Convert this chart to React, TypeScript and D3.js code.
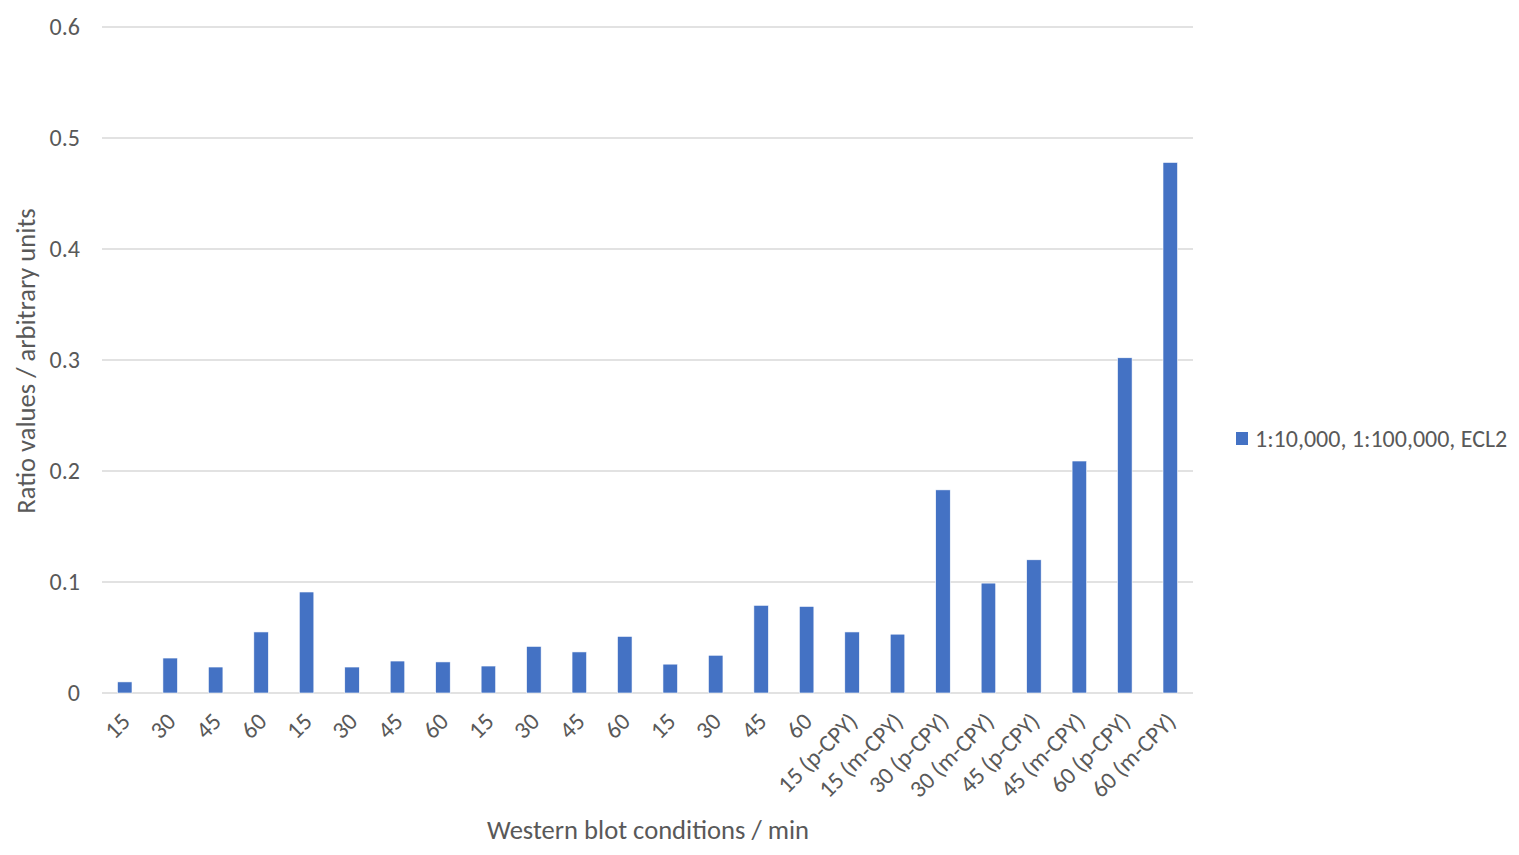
import React from "react";
import * as d3 from "d3";

const categories = [
  "15", "30", "45", "60", "15", "30", "45", "60", "15", "30", "45", "60",
  "15", "30", "45", "60", "15 (p-CPY)", "15 (m-CPY)", "30 (p-CPY)", "30 (m-CPY)",
  "45 (p-CPY)", "45 (m-CPY)", "60 (p-CPY)", "60 (m-CPY)",
];
const values = [
  0.010, 0.0315, 0.0234, 0.055, 0.091, 0.0234, 0.0288, 0.028, 0.0243, 0.042, 0.037, 0.051,
  0.026, 0.034, 0.079, 0.078, 0.055, 0.053, 0.183, 0.099, 0.12, 0.209, 0.302, 0.478,
];
const yTicks = [0, 0.1, 0.2, 0.3, 0.4, 0.5, 0.6];
const seriesName = "1:10,000, 1:100,000, ECL2";
const xTitle = "Western blot conditions / min";
const yTitle = "Ratio values / arbitrary units";

const W = 1519, H = 855;
const left = 102, right = 1193, top = 27, bottom = 693;
const font = "Calibri, Carlito, Lato, 'Liberation Sans', sans-serif";
const txt = "#595959";
const barColor = "#4472C4";

export default function App() {
  const x = d3.scaleBand<number>().domain(d3.range(categories.length)).range([left, right]).paddingInner(0.68).paddingOuter(0.34);
  const y = d3.scaleLinear().domain([0, 0.6]).range([bottom, top]);
  return (
    <svg width={W} height={H} style={{ position: "absolute", left: 0, top: 0, background: "#fff" }} fontFamily={font}>
      {yTicks.map((t) => (
        <g key={t}>
          <line x1={left} x2={right} y1={y(t)} y2={y(t)} stroke="#D9D9D9" strokeWidth={1.3} />
          <text x={80} y={y(t)} dy="0.35em" textAnchor="end" fontSize={24} fill={txt}>{t === 0 ? "0" : String(t)}</text>
        </g>
      ))}
      {values.map((v, i) => (
        <rect key={i} x={x(i)!} y={y(v)} width={x.bandwidth()} height={y(0) - y(v)} fill={barColor} stroke="#fff" strokeWidth={0.6} />
      ))}
      {categories.map((c, i) => {
        const cx = x(i)! + x.bandwidth() / 2;
        return (
          <text key={i} transform={`translate(${cx + 1},${bottom + 24}) rotate(-45)`} textAnchor="end" dy="0.35em" fontSize={24} fill={txt}>{c}</text>
        );
      })}
      <text x={648} y={839} textAnchor="middle" fontSize={26.6} fill={txt}>{xTitle}</text>
      <text transform={`translate(35,361) rotate(-90)`} textAnchor="middle" fontSize={26.6} fill={txt}>{yTitle}</text>
      <rect x={1236} y={432} width={12} height={13} fill={barColor} />
      <text x={1255} y={439} dy="0.35em" fontSize={24} fill={txt}>{seriesName}</text>
    </svg>
  );
}
